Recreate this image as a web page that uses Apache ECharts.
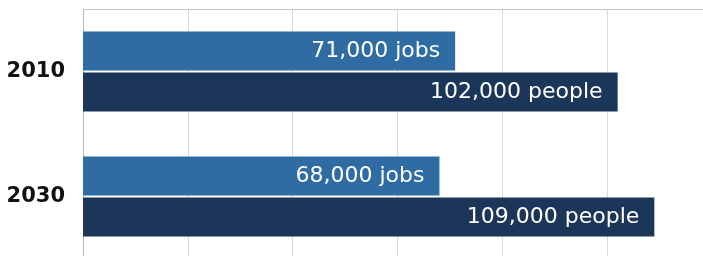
<!DOCTYPE html>
<html>
<head>
<meta charset="utf-8">
<script src="https://cdn.jsdelivr.net/npm/echarts@6/dist/echarts.min.js"></script>
<style>
  html, body { margin: 0; padding: 0; background: #fff; }
  #chart { width: 703px; height: 256px; }
</style>
</head>
<body>
<div id="chart"></div>
<script>
// 就业与人口 2010 / 2030
const years = ['2010', '2030'];
const jobs = [71000, 68000];
const people = [102000, 109000];
const jobsLabel = ['71,000 jobs', '68,000 jobs'];
const peopleLabel = ['102,000 people', '109,000 people'];

let myChart = echarts.init(document.getElementById('chart'));

let option = {
    animation: false,
    grid: {
        left: 83,
        top: 9,
        width: 629,
        height: 250,
        outerBoundsMode: 'none'
    },
    xAxis: {
        type: 'value',
        position: 'top',
        min: 0,
        max: 120000,
        interval: 20000,
        axisLine: { show: true, lineStyle: { color: '#c8c8c8', width: 1 } },
        axisTick: { show: false },
        axisLabel: { show: false },
        splitLine: { lineStyle: { color: '#dadada', width: 1 } }
    },
    yAxis: {
        type: 'category',
        data: years,
        inverse: true,
        axisLine: { lineStyle: { color: '#b8b8b8', width: 1 } },
        axisTick: { show: false },
        axisLabel: {
            margin: 18,
            color: '#111',
            fontFamily: 'DejaVu Sans',
            fontWeight: 'bold',
            fontSize: 21
        }
    },
    series: [
        {
            name: 'jobs',
            type: 'bar',
            data: jobs,
            barWidth: 39,
            barGap: '5%',
            itemStyle: { color: '#2f6ca3' },
            label: {
                show: true,
                position: 'insideRight',
                distance: 15,
                color: '#fff',
                fontFamily: 'DejaVu Sans',
                fontSize: 22,
                formatter: function (p) { return jobsLabel[p.dataIndex]; }
            }
        },
        {
            name: 'people',
            type: 'bar',
            data: people,
            barWidth: 39,
            itemStyle: { color: '#1b3658' },
            label: {
                show: true,
                position: 'insideRight',
                distance: 15,
                color: '#fff',
                fontFamily: 'DejaVu Sans',
                fontSize: 22,
                formatter: function (p) { return peopleLabel[p.dataIndex]; }
            }
        }
    ]
};

myChart.setOption(option);
</script>
</body>
</html>
